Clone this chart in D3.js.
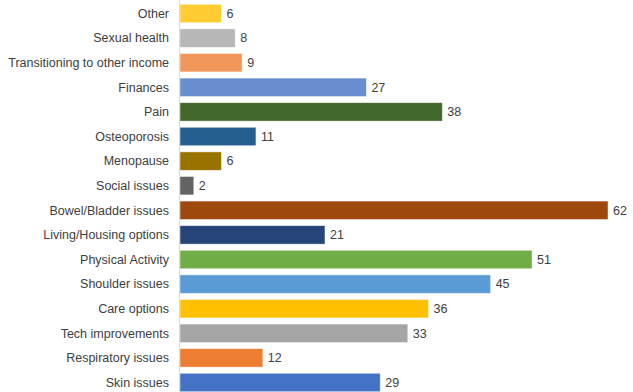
<!DOCTYPE html>
<html lang="en">
<head>
    <meta charset="UTF-8">
    <title>Topics</title>
    <script src="https://d3js.org/d3.v7.min.js"></script>
    <style>
      body { margin: 0; background: #fff; }
      text { font-family: "Liberation Sans", Arial, sans-serif; fill: #404040; }
    </style>
</head>
<body>
    <svg width="633" height="392"></svg>

    <script>
      const categories = [
        "Other", "Sexual health", "Transitioning to other income", "Finances", "Pain",
        "Osteoporosis", "Menopause", "Social issues", "Bowel/Bladder issues",
        "Living/Housing options", "Physical Activity", "Shoulder issues", "Care options",
        "Tech improvements", "Respiratory issues", "Skin issues"
      ];
      const counts = [6, 8, 9, 27, 38, 11, 6, 2, 62, 21, 51, 45, 36, 33, 12, 29];
      const barColors = [
        "#FFCD33", "#B7B7B7", "#F1975A", "#698ED0", "#43682B", "#255E91", "#997300", "#636363",
        "#9E480E", "#264478", "#70AD47", "#5B9BD5", "#FFC000", "#A5A5A5", "#ED7D31", "#4472C4"
      ];

      const data = categories.map((c, i) => ({ name: c, value: counts[i], color: barColors[i] }));

      const svg = d3.select("svg");
      const left = 180;

      const x = d3.scaleLinear()
        .domain([0, 62])
        .range([left, 608]);

      const y = d3.scaleBand()
        .domain(categories)
        .range([1.2, 394.8])
        .paddingInner(0.25)
        .paddingOuter(0.125);

      svg.selectAll(".bar")
        .data(data)
        .enter()
        .append("rect")
        .attr("class", "bar")
        .attr("x", x(0))
        .attr("y", d => y(d.name))
        .attr("width", d => x(d.value) - x(0))
        .attr("height", y.bandwidth())
        .attr("fill", d => d.color)
        .attr("stroke", "#ffffff")
        .attr("stroke-opacity", 0.6)
        .attr("stroke-width", 0.75);

      // category axis line
      svg.append("line")
        .attr("x1", left - 0.5)
        .attr("x2", left - 0.5)
        .attr("y1", 0)
        .attr("y2", 392)
        .attr("stroke", "#d9d9d9")
        .attr("stroke-width", 1);

      svg.selectAll(".cat")
        .data(data)
        .enter()
        .append("text")
        .attr("class", "cat")
        .attr("x", left - 11)
        .attr("y", d => y(d.name) + y.bandwidth() / 2)
        .attr("dy", "0.35em")
        .attr("text-anchor", "end")
        .attr("font-size", "12.5px")
        .text(d => d.name);

      svg.selectAll(".val")
        .data(data)
        .enter()
        .append("text")
        .attr("class", "val")
        .attr("x", d => x(d.value) + 5)
        .attr("y", d => y(d.name) + y.bandwidth() / 2)
        .attr("dy", "0.35em")
        .attr("font-size", "12.5px")
        .text(d => d.value);
    </script>
</body>
</html>
